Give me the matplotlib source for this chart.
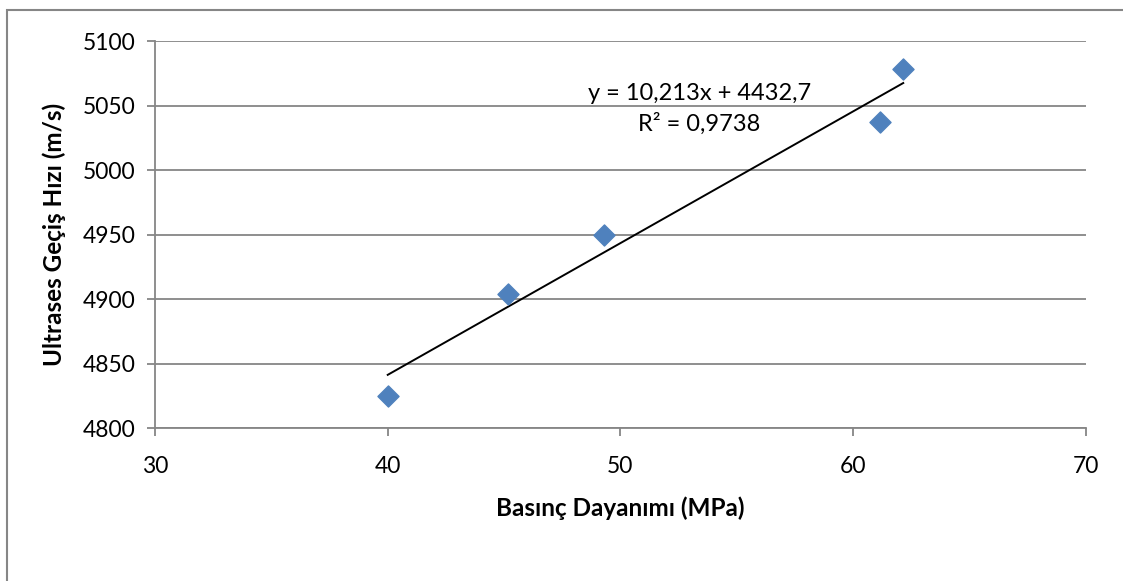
import matplotlib.pyplot as plt
from matplotlib.patches import Rectangle

plt.rcParams['font.family'] = ['Lato', 'DejaVu Sans']

# data
strength = [40.0, 45.15, 49.3, 61.15, 62.15]      # MPa
velocity = [4825, 4904, 4950, 5037, 5078]          # m/s
slope = 10.213
intercept = 4432.7
eq_text = "y = 10,213x + 4432,7"
r2_text = "R² = 0,9738"
x_ticks = [30, 40, 50, 60, 70]
y_ticks = [4800, 4850, 4900, 4950, 5000, 5050, 5100]

grid_color = '#868686'
marker_color = '#4F81BD'

fig = plt.figure(figsize=(11.23, 5.81), dpi=100)
ax = fig.add_axes([0.138, 0.2633, 0.829, 0.6661])

# outer chart border (cropped on right/bottom in the original)
fig.patches.append(Rectangle((7 / 1123, -0.1), 1.2, 1 - 10 / 581 + 0.1,
                             transform=fig.transFigure, fill=False,
                             edgecolor=grid_color, linewidth=1.5))

ax.scatter(strength, velocity, marker='D', s=115, color=marker_color,
           edgecolors=marker_color, zorder=3)

# linear trendline
x0, x1 = min(strength), max(strength)
ax.plot([x0, x1], [slope * x0 + intercept, slope * x1 + intercept],
        color='black', linewidth=1.4, zorder=2)

ax.text(53.4, 5059.7, eq_text, ha='center', va='center', fontsize=17)
ax.text(53.4, 5035.7, r2_text, ha='center', va='center', fontsize=17)

ax.set_xlim(30, 70)
ax.set_ylim(4800, 5100)
ax.set_xticks(x_ticks)
ax.set_yticks(y_ticks)
ax.yaxis.grid(True, color=grid_color, linewidth=1.3)
ax.set_axisbelow(True)

for side in ['top', 'right']:
    ax.spines[side].set_visible(False)
for side in ['left', 'bottom']:
    ax.spines[side].set_color(grid_color)
    ax.spines[side].set_linewidth(1.3)

ax.tick_params(axis='both', colors=grid_color, labelcolor='black',
               labelsize=16.5, length=6, width=1.3, direction='out', pad=8)
ax.tick_params(axis='x', pad=14)

ax.set_xlabel("Basınç Dayanımı (MPa)", fontsize=17.5, fontweight='bold', labelpad=14)
ax.set_ylabel("Ultrases Geçiş Hızı (m/s)", fontsize=17.5, fontweight='bold', labelpad=12)

fig.savefig('out.png', dpi=100)
